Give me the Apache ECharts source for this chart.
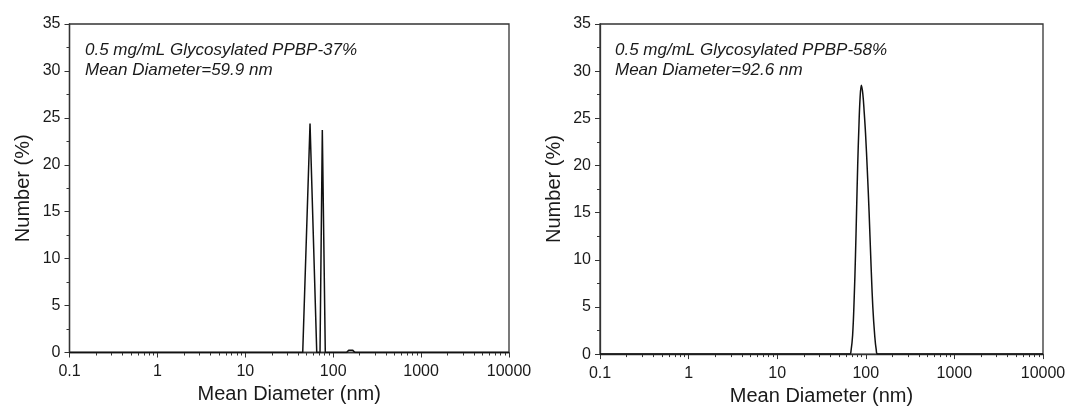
<!DOCTYPE html>
<html>
<head>
<meta charset="utf-8">
<script src="https://cdn.jsdelivr.net/npm/echarts@6/dist/echarts.min.js"></script>
<style>
  html, body { margin: 0; padding: 0; background: #fff; }
  #chart { width: 1072px; height: 411px; }
</style>
</head>
<body>
<div id="chart"></div>
<script>
// left panel: PPBP-37%
var leftDiam = [0.1, 45, 54.5, 65, 70.8, 75.2, 81.3, 142, 150, 166, 177, 10000];
var leftNum  = [0,   0,  24.4, 0,  0,    23.7, 0,    0,   0.25, 0.25, 0,  0];

// right panel: PPBP-58%
var rightDiam = [0.1, 66, 68, 71, 74, 76.5, 78.6, 81, 83.4, 86, 89, 92.5, 96, 99.3, 104, 109, 114, 120, 126, 131, 136, 10000];
var rightNum  = [0,   0,  0.3, 2, 6,  10.5, 15,   20, 23.8, 27, 28.5, 27.6, 25.6, 23.4, 19.5, 15, 10, 5, 2, 0.5, 0, 0];

var xTickLabels = ["0.1", "1", "10", "100", "1000", "10000"];
var minorMult = [2, 3, 4, 5, 6, 7, 8, 9];
var leftNote = ["0.5 mg/mL Glycosylated PPBP-37%", "Mean Diameter=59.9 nm"];
var rightNote = ["0.5 mg/mL Glycosylated PPBP-58%", "Mean Diameter=92.6 nm"];

function pairs(xs, ys) {
  return xs.map(function (x, i) { return [x, ys[i]]; });
}

// minor tick positions in log space (2..9 in every decade)
var minorTicks = [];
for (var d = -1; d < 4; d++) {
  minorMult.forEach(function (m) { minorTicks.push(Math.log10(m) + d); });
}

var axisColor = "#333";
var font = "Liberation Sans, Arial, sans-serif";

function xAxes(gi) {
  return [{
    type: "log", logBase: 10, gridIndex: gi, min: 0.1, max: 10000,
    name: "Mean Diameter (nm)", nameLocation: "middle", nameGap: 30,
    nameTextStyle: { fontSize: 20, color: "#1a1a1a", fontFamily: font },
    axisLine: { onZero: false, lineStyle: { color: axisColor, width: 1.3 } },
    axisTick: { length: 5, lineStyle: { color: axisColor } },
    axisLabel: {
      fontSize: 16, color: "#1a1a1a", fontFamily: font, margin: 11,
      formatter: function (v) {
        var i = Math.round(Math.log10(v)) + 1;
        return xTickLabels[i] !== undefined ? xTickLabels[i] : "";
      }
    },
    splitLine: { show: false }
  }, {
    type: "value", gridIndex: gi, min: -1, max: 4, position: "bottom",
    axisLine: { show: false, onZero: false },
    axisTick: { show: true, length: 3, customValues: minorTicks, lineStyle: { color: axisColor } },
    axisLabel: { show: false },
    splitLine: { show: false }
  }];
}

function yAxis(gi) {
  return {
    type: "value", gridIndex: gi, min: 0, max: 35, interval: 5,
    name: "Number (%)", nameLocation: "middle", nameGap: 36,
    nameTextStyle: { fontSize: 20, color: "#1a1a1a", fontFamily: font },
    axisLine: { show: true, onZero: false, lineStyle: { color: axisColor, width: 1.3 } },
    axisTick: { show: true, length: 5, lineStyle: { color: axisColor } },
    minorTick: { show: true, splitNumber: 2, length: 3, lineStyle: { color: axisColor } },
    axisLabel: { fontSize: 16, color: "#1a1a1a", fontFamily: font, margin: 9 },
    splitLine: { show: false }
  };
}

function note(lines, left) {
  return {
    text: lines.join("\n"), left: left, top: 35,
    textStyle: { fontSize: 17, fontStyle: "italic", fontWeight: "normal", color: "#1a1a1a", fontFamily: font, lineHeight: 20 }
  };
}

var chart = echarts.init(document.getElementById("chart"), null, { renderer: "canvas" });
chart.setOption({
  animation: false,
  backgroundColor: "#fff",
  title: [note(leftNote, 80), note(rightNote, 610)],
  grid: [
    { left: 69.5, right: 563, top: 24, bottom: 58.5, show: true, borderColor: axisColor, borderWidth: 1.3 },
    { left: 600, right: 29, top: 24, bottom: 56, show: true, borderColor: axisColor, borderWidth: 1.3 }
  ],
  xAxis: xAxes(0).concat(xAxes(1)),
  yAxis: [yAxis(0), yAxis(1)],
  series: [{
    type: "line", xAxisIndex: 0, yAxisIndex: 0, showSymbol: false,
    lineStyle: { color: "#111", width: 1.5 },
    data: pairs(leftDiam, leftNum)
  }, {
    type: "line", xAxisIndex: 2, yAxisIndex: 1, showSymbol: false, smooth: 0.4,
    lineStyle: { color: "#111", width: 1.5 },
    data: pairs(rightDiam, rightNum)
  }]
});
</script>
</body>
</html>
